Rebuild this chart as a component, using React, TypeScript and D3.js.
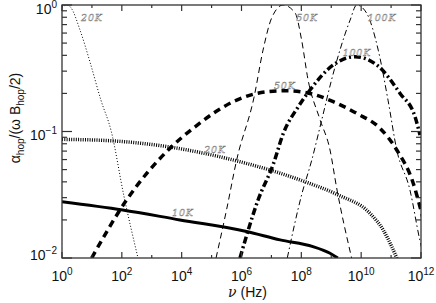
import React, { useEffect, useRef } from "react";
import * as d3 from "d3";

// frequency (Hz) and alpha_hop / (omega B_hop / 2)
const nuThin20 = [1, 1.47, 2, 4, 8.6, 20, 44, 117, 347];
const alphaThin20 = [0.96, 1.0, 0.95, 0.634, 0.355, 0.177, 0.101, 0.031, 0.01];

const nuThin50 = [1.41e5, 3.16e5, 6.9e5, 2.63e6, 5.25e6, 1.02e7, 2.45e7, 6.2e7, 1.02e8, 1.66e8, 4.17e8, 9.1e8, 1.51e9, 4.8e9];
const alphaThin50 = [0.01, 0.024, 0.0596, 0.187, 0.44, 0.79, 1.0, 0.865, 0.53, 0.26, 0.125, 0.0714, 0.036, 0.01];

const nuThin100 = [3.39e7, 1.02e8, 2.24e8, 4.79e8, 1.02e9, 1.95e9, 4.27e9, 7.1e9, 1.51e10, 3.72e10, 7.9e10, 1.55e11, 4.27e11, 9.1e11, 1.26e12];
const alphaThin100 = [0.01, 0.0315, 0.0596, 0.123, 0.255, 0.44, 0.76, 1.0, 0.865, 0.44, 0.177, 0.0714, 0.0345, 0.0139, 0.01];

const nuThick10 = [1, 107, 8.7e3, 1.48e6, 1.95e7, 2.45e8, 9.1e8, 1.66e9];
const alphaThick10 = [0.0279, 0.024, 0.02, 0.0162, 0.0139, 0.0123, 0.0109, 0.01];

const nuThick20 = [1, 40, 3.47e3, 8.9e5, 8.9e6, 1.32e8, 1.7e9, 1.95e10, 5.5e10, 1.05e11, 1.55e11];
const alphaThick20 = [0.0867, 0.0846, 0.0758, 0.0577, 0.0496, 0.0401, 0.0315, 0.0226, 0.0166, 0.0123, 0.01];

const nuThick50 = [9.8, 145, 3.55e3, 2.8e4, 6.9e5, 6.9e6, 3.24e7, 1.95e8, 1.17e9, 7.1e9, 4.27e10, 1.55e11, 5.5e11, 9.3e11, 1.26e12];
const alphaThick50 = [0.01, 0.0288, 0.0714, 0.109, 0.177, 0.206, 0.21, 0.2, 0.172, 0.139, 0.106, 0.0714, 0.039, 0.0253, 0.019];

const nuThick100 = [8.9e5, 3.63e6, 1.15e7, 2.51e7, 7.9e7, 1.95e8, 1.17e9, 6.2e9, 3.31e10, 2.0e11, 6.3e11, 9.3e11];
const alphaThick100 = [0.01, 0.029, 0.055, 0.0968, 0.157, 0.213, 0.336, 0.39, 0.336, 0.2, 0.131, 0.0938];

const xTickExps = [0, 2, 4, 6, 8, 10, 12];
const yTickExps = [0, -1, -2];

const series = [
  { nu: nuThin20, alpha: alphaThin20, width: 1, dash: "1,2" },
  { nu: nuThin50, alpha: alphaThin50, width: 1, dash: "6,4" },
  { nu: nuThin100, alpha: alphaThin100, width: 1, dash: "6,3,1.5,3" },
  { nu: nuThick10, alpha: alphaThick10, width: 3, dash: null },
  { nu: nuThick20, alpha: alphaThick20, width: 3.5, dash: "1,1.3" },
  { nu: nuThick50, alpha: alphaThick50, width: 3.5, dash: "7,5" },
  { nu: nuThick100, alpha: alphaThick100, width: 3.5, dash: "7,3,2,3" },
];

// temperature labels, placed in data space
const labels = [
  { text: "20K", nu: 10, alpha: 0.8 },
  { text: "50K", nu: 1.55e8, alpha: 0.8 },
  { text: "100K", nu: 5e10, alpha: 0.8 },
  { text: "100K", nu: 7.2e9, alpha: 0.425 },
  { text: "50K", nu: 2.8e7, alpha: 0.233 },
  { text: "20K", nu: 1.3e5, alpha: 0.0727 },
  { text: "10K", nu: 1.1e4, alpha: 0.0227 },
];

const App = () => {
  const svgRef = useRef();
  const width = 436;
  const height = 303;
  const margin = { top: 5, right: 15, bottom: 45, left: 62 };

  useEffect(() => {
    const svg = d3.select(svgRef.current);
    svg.selectAll("*").remove();

    const x = d3.scaleLog().domain([1, 1e12]).range([margin.left, width - margin.right]);
    const y = d3.scaleLog().domain([1e-2, 1]).range([height - margin.bottom, margin.top]);
    const [x0, x1] = x.range();
    const [y0, y1] = [y.range()[1], y.range()[0]];
    const axisColor = "#333";
    const font = "'Liberation Sans', Arial, sans-serif";

    svg.append("defs").append("clipPath").attr("id", "plotClip")
      .append("rect").attr("x", x0).attr("y", y0).attr("width", x1 - x0).attr("height", y1 - y0);

    // curves
    const line = d3.line()
      .x(d => x(d[0]))
      .y(d => y(d[1]))
      .curve(d3.curveMonotoneX);

    const g = svg.append("g").attr("clip-path", "url(#plotClip)");
    series.forEach(s => {
      g.append("path")
        .attr("d", line(s.nu.map((n, i) => [n, s.alpha[i]])))
        .attr("fill", "none")
        .attr("stroke", "#000")
        .attr("stroke-width", s.width)
        .attr("stroke-dasharray", s.dash);
    });

    // curve labels
    labels.forEach(l => {
      svg.append("text")
        .attr("x", x(l.nu))
        .attr("y", y(l.alpha))
        .attr("text-anchor", "middle")
        .attr("dominant-baseline", "central")
        .style("font-family", "'DejaVu Serif', serif")
        .style("font-style", "italic")
        .style("font-size", "9.5px")
        .style("letter-spacing", "0.8px")
        .attr("fill", "#fff")
        .attr("stroke", "#777")
        .attr("stroke-width", 0.45)
        .text(l.text);
    });

    // frame
    svg.append("rect")
      .attr("x", x0).attr("y", y0).attr("width", x1 - x0).attr("height", y1 - y0)
      .attr("fill", "none").attr("stroke", axisColor).attr("stroke-width", 1.3);

    // x ticks: major at even decades, minor at odd
    for (let e = 0; e <= 12; e++) {
      const len = e % 2 === 0 ? 6 : 3;
      const px = x(Math.pow(10, e));
      svg.append("line").attr("x1", px).attr("x2", px).attr("y1", y1).attr("y2", y1 - len)
        .attr("stroke", axisColor).attr("stroke-width", 1.2);
      svg.append("line").attr("x1", px).attr("x2", px).attr("y1", y0).attr("y2", y0 + len)
        .attr("stroke", axisColor).attr("stroke-width", 1.2);
    }

    // y ticks: major at decades, minor at 2..9
    const yTicks = y.ticks();
    yTicks.forEach(v => {
      const major = Math.abs(Math.log10(v) - Math.round(Math.log10(v))) < 1e-9;
      const len = major ? 10 : 5;
      const py = y(v);
      svg.append("line").attr("x1", x0).attr("x2", x0 + len).attr("y1", py).attr("y2", py)
        .attr("stroke", axisColor).attr("stroke-width", 1.2);
      svg.append("line").attr("x1", x1).attr("x2", x1 - len).attr("y1", py).attr("y2", py)
        .attr("stroke", axisColor).attr("stroke-width", 1.2);
    });

    // x tick labels
    xTickExps.forEach(e => {
      const t = svg.append("text")
        .attr("x", x(Math.pow(10, e)))
        .attr("y", y1 + 23)
        .attr("text-anchor", "middle")
        .style("font-family", font)
        .style("font-size", "14px")
        .attr("fill", "#111");
      t.append("tspan").text("10");
      t.append("tspan").attr("dy", -6).style("font-size", "10px").text(e);
    });

    // y tick labels
    yTickExps.forEach(e => {
      const t = svg.append("text")
        .attr("x", x0 - 5)
        .attr("y", y(Math.pow(10, e)) + (e === 0 ? 9 : e === -1 ? 8 : 2))
        .attr("text-anchor", "end")
        .style("font-family", font)
        .style("font-size", "14px")
        .attr("fill", "#111");
      t.append("tspan").text("10");
      t.append("tspan").attr("dy", -6).style("font-size", "10px").text(e === 0 ? "0" : "\u2212" + Math.abs(e));
    });

    // x title
    const xt = svg.append("text")
      .attr("x", (x0 + x1) / 2 + 6)
      .attr("y", height - 6)
      .attr("text-anchor", "middle")
      .style("font-family", font)
      .style("font-size", "14px")
      .attr("fill", "#111");
    xt.append("tspan").style("font-family", "'DejaVu Serif', serif").style("font-style", "italic").text("\u03bd");
    xt.append("tspan").text("  (Hz)");

    // y title
    const yt = svg.append("text")
      .attr("transform", `translate(20, 118) rotate(-90)`)
      .attr("text-anchor", "middle")
      .style("font-family", font)
      .style("font-size", "14px")
      .attr("fill", "#111");
    yt.append("tspan").text("\u03b1");
    yt.append("tspan").attr("dy", 4).style("font-size", "10px").text("hop");
    yt.append("tspan").attr("dy", -4).text("/(\u03c9 B");
    yt.append("tspan").attr("dy", 4).style("font-size", "10px").text("hop");
    yt.append("tspan").attr("dy", -4).text("/2)");
  }, []);

  return (
    <svg
      ref={svgRef}
      width={width}
      height={height}
      style={{ position: "absolute", left: 0, top: 0, background: "#fff" }}
    ></svg>
  );
};

export default App;
